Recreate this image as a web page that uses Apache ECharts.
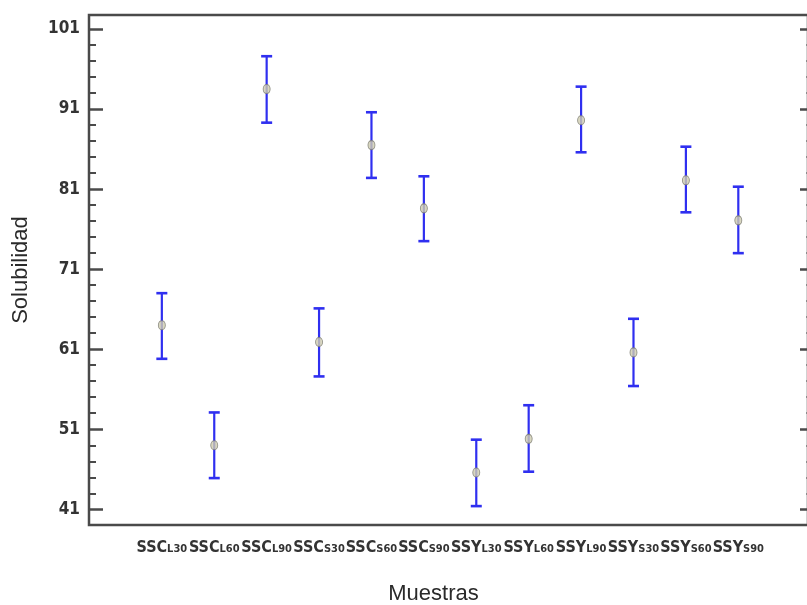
<!DOCTYPE html>
<html>
<head>
<meta charset="utf-8">
<script src="https://cdn.jsdelivr.net/npm/echarts@6/dist/echarts.min.js"></script>
<style>
  html, body { margin: 0; padding: 0; background: #fff; }
  #chart { width: 807px; height: 605px; }
</style>
</head>
<body>
<div id="chart"></div>
<script>
// Sample names: base code + subscript part
const categories = ['SSCL30', 'SSCL60', 'SSCL90', 'SSCS30', 'SSCS60', 'SSCS90',
                    'SSYL30', 'SSYL60', 'SSYL90', 'SSYS30', 'SSYS60', 'SSYS90'];
// Mean solubility and interval limits per sample
const means = [64.0, 49.0, 93.5, 61.9, 86.5, 78.6, 45.6, 49.8, 89.6, 60.6, 82.1, 77.1];
const lower = [59.8, 44.9, 89.3, 57.6, 82.4, 74.5, 41.4, 45.7, 85.6, 56.4, 78.1, 73.0];
const upper = [68.0, 53.1, 97.6, 66.1, 90.6, 82.6, 49.7, 54.0, 93.8, 64.8, 86.3, 81.3];
// Tick values on the solubility axis
const majorTicks = [41, 51, 61, 71, 81, 91, 101];
const minorTicks = [43, 45, 47, 49, 53, 55, 57, 59, 63, 65, 67, 69, 73, 75, 77, 79,
                    83, 85, 87, 89, 93, 95, 97, 99];

const narrow = "'Liberation Sans Narrow', 'DejaVu Sans Condensed', 'Liberation Sans', sans-serif";
const frameColor = '#4a4a4a';
const Y_MIN = 39.04, Y_MAX = 102.75;

const chart = echarts.init(document.getElementById('chart'));

const xIdx = categories.map((_, i) => i);

function yAxisBase(extra) {
  return Object.assign({
    type: 'value', min: Y_MIN, max: Y_MAX,
    splitLine: { show: false },
    axisLine: { show: false, onZero: false },
    axisLabel: { show: false },
    axisTick: { show: false }
  }, extra);
}

chart.setOption({
  animation: false,
  grid: {
    left: 89, top: 15, right: -1, bottom: 80,
    containLabel: false, outerBoundsMode: 'none',
    show: true, borderColor: frameColor, borderWidth: 2.5, backgroundColor: 'transparent'
  },
  xAxis: {
    type: 'value', min: -1.39, max: 12.33,
    name: 'Muestras', nameLocation: 'middle', nameGap: 58,
    nameTextStyle: { fontFamily: 'Liberation Sans, Arial, sans-serif', fontSize: 22, color: '#2a2a2a',
                     padding: [0, 30, 0, 0] },
    splitLine: { show: false },
    axisLine: { show: false, onZero: false },
    axisTick: { show: false },
    axisLabel: {
      customValues: xIdx,
      margin: 15,
      showMinLabel: true,
      showMaxLabel: true,
      hideOverlap: false,
      formatter: function (v) {
        const name = categories[Math.round(v)];
        if (!name) return '';
        return '{a|' + name.slice(0, 3) + '}{b|' + name.slice(3) + '}';
      },
      rich: {
        a: { fontFamily: narrow, fontSize: 16, fontWeight: 'bold', color: '#333', verticalAlign: 'bottom' },
        b: { fontFamily: narrow, fontSize: 11, fontWeight: 'bold', color: '#333', verticalAlign: 'bottom', padding: [0, 0, 1, 0] }
      }
    }
  },
  yAxis: [
    yAxisBase({
      position: 'left',
      name: 'Solubilidad', nameLocation: 'middle', nameGap: 57, nameRotate: 90,
      nameTextStyle: { fontFamily: 'Liberation Sans, Arial, sans-serif', fontSize: 22, color: '#2a2a2a' },
      axisTick: { show: true, inside: true, length: 14, customValues: majorTicks,
                  lineStyle: { color: frameColor, width: 2.5 } },
      axisLabel: { show: true, customValues: majorTicks, margin: 9,
                   fontFamily: narrow, fontSize: 17, fontWeight: 'bold', color: '#333' }
    }),
    yAxisBase({
      position: 'left',
      axisTick: { show: true, inside: true, length: 7, customValues: minorTicks,
                  lineStyle: { color: frameColor, width: 2 } }
    }),
    yAxisBase({
      position: 'right',
      axisTick: { show: true, inside: true, length: 8, customValues: majorTicks,
                  lineStyle: { color: frameColor, width: 2.5 } }
    }),
    yAxisBase({
      position: 'right',
      axisTick: { show: true, inside: true, length: 2, customValues: minorTicks,
                  lineStyle: { color: '#777', width: 1.5 } }
    })
  ],
  series: [
    {
      type: 'custom',
      name: 'intervalo',
      yAxisIndex: 0,
      data: xIdx.map(i => [i, lower[i], upper[i]]),
      renderItem: function (params, api) {
        const x = api.value(0);
        const lo = api.coord([x, api.value(1)]);
        const hi = api.coord([x, api.value(2)]);
        const cap = 5.5;
        const style = { stroke: '#2f2ff0', lineWidth: 2.2, fill: null };
        return {
          type: 'group',
          children: [
            { type: 'line', shape: { x1: lo[0], y1: lo[1], x2: hi[0], y2: hi[1] }, style: style },
            { type: 'line', shape: { x1: hi[0] - cap, y1: hi[1], x2: hi[0] + cap, y2: hi[1] },
              style: Object.assign({}, style, { lineWidth: 2.6 }) },
            { type: 'line', shape: { x1: lo[0] - cap, y1: lo[1], x2: lo[0] + cap, y2: lo[1] },
              style: Object.assign({}, style, { lineWidth: 2.6 }) }
          ]
        };
      },
      z: 2
    },
    {
      type: 'scatter',
      name: 'media',
      yAxisIndex: 0,
      data: xIdx.map(i => [i, means[i]]),
      symbol: 'circle',
      symbolSize: [7, 9],
      itemStyle: { color: '#cfcdb0', borderColor: '#7d7d74', borderWidth: 1 },
      z: 3
    }
  ]
});
</script>
</body>
</html>
